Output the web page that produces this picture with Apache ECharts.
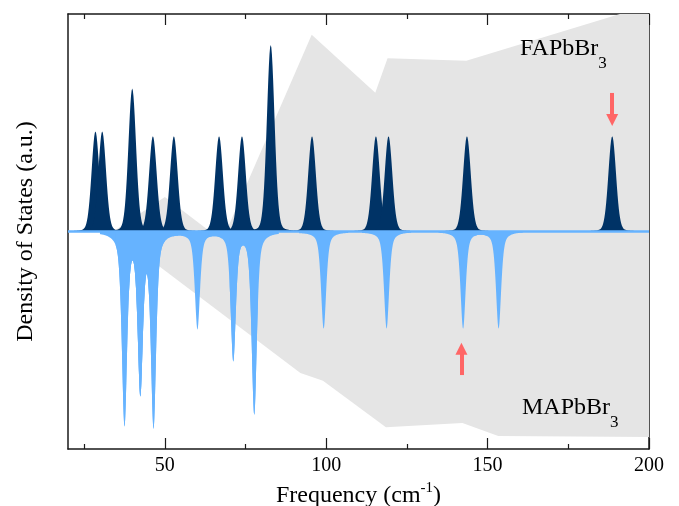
<!DOCTYPE html>
<html>
<head>
<meta charset="utf-8">
<script src="https://cdn.jsdelivr.net/npm/echarts@6/dist/echarts.min.js"></script>
<style>
html,body{margin:0;padding:0;background:#fff;}
#chart{width:679px;height:506px;}
</style>
</head>
<body>
<div id="chart"></div>
<script>
// ---- data ----
var faCenters = [28.5, 30.6, 39.9, 46.3, 52.8, 66.8, 73.9, 82.8, 95.6, 115.4, 119.3, 143.6, 188.6];
var faHeights = [0.46, 0.46, 0.657, 0.438, 0.438, 0.438, 0.438, 0.858, 0.438, 0.438, 0.438, 0.438, 0.438];
var maCenters = [37.5, 42.4, 46.5, 60.1, 71.2, 77.7, 99.2, 118.7, 142.4, 153.4];
var maHeights = [-0.877, -0.716, -0.881, -0.443, -0.585, -0.835, -0.445, -0.445, -0.445, -0.445];
var greyUpperX = [34, 50, 64, 69, 95.5, 115.2, 119, 143.4, 191, 200];
var greyUpperY = [0, 0.159, 0, 0, 0.905, 0.638, 0.796, 0.785, 1.0, 1.0];
var greyLowerX = [34, 92, 99, 118.5, 142.2, 153.3, 200];
var greyLowerY = [0, -0.65, -0.686, -0.9, -0.88, -0.94, -0.945];
var majorTicks = [50, 100, 150, 200];
var minorTicks = [25, 75, 125, 175];
var arrowDown = [[188.6, 0.637], [188.6, 0.513]];
var arrowUp = [[141.9, -0.66], [141.9, -0.539]];

// ---- styling ----
var FONT = 'Liberation Serif';
var DARK = '#003366';
var LIGHT = '#66b3ff';
var GREY = '#e5e5e5';
var AXIS = '#1a1a1a';

function pv(d, fwhm, eta) {
  var r = 2 * d / fwhm;
  return eta / (1 + r * r) + (1 - eta) * Math.exp(-Math.LN2 * r * r);
}

function peakSeries(centers, heights, color, fwhm, eta, summed, z) {
  function total(x) {
    var s = 0;
    for (var j = 0; j < centers.length; j++) s += heights[j] * pv(x - centers[j], fwhm, eta);
    return s;
  }
  return {
    type: 'custom',
    z: z,
    silent: true,
    clip: true,
    data: centers.map(function (c, i) { return [c, heights[i]]; }),
    renderItem: function (params, api) {
      var c = api.value(0), h = api.value(1);
      var span = fwhm * 4;
      var pts = [api.coord([c - span, 0])];
      var n = 120;
      for (var k = 0; k <= n; k++) {
        var x = c - span + 2 * span * k / n;
        var y = summed ? total(x) : h * pv(x - c, fwhm, eta);
        pts.push(api.coord([x, y]));
      }
      pts.push(api.coord([c + span, 0]));
      return { type: 'polygon', shape: { points: pts }, style: { fill: color } };
    }
  };
}

function zip(xs, ys) { return xs.map(function (x, i) { return [x, ys[i]]; }); }

var chart = echarts.init(document.getElementById('chart'), null, { renderer: 'canvas' });

function xAx(pos, ticks, len, showLine, showLabel, extra) {
  var o = {
    type: 'value', gridIndex: 0, min: 20, max: 200, position: pos,
    axisLine: { show: showLine, onZero: false, lineStyle: { color: AXIS, width: 1.5 } },
    axisTick: { show: true, inside: true, length: len, customValues: ticks, lineStyle: { color: AXIS, width: 1.2 } },
    axisLabel: showLabel ? { show: true, customValues: ticks, margin: 7, fontFamily: FONT, fontSize: 20, color: '#000' } : { show: false },
    splitLine: { show: false }
  };
  if (extra) for (var k in extra) o[k] = extra[k];
  return o;
}

var labelRich = {
  m: { fontFamily: FONT, fontSize: 24, lineHeight: 26, verticalAlign: 'top', fill: '#000' },
  s: { fontFamily: FONT, fontSize: 17, lineHeight: 17, padding: [18, 0, 0, 0], verticalAlign: 'top', fill: '#000' }
};

var option = {
  animation: false,
  backgroundColor: '#fff',
  grid: { left: 68, right: 30, top: 14, bottom: 57, containLabel: false, outerBoundsMode: 'none' },
  xAxis: [
    xAx('bottom', majorTicks, 11, true, true, {
      name: 'Frequency (cm{sup|-1})',
      nameLocation: 'middle',
      nameGap: 31,
      nameTextStyle: {
        fontFamily: FONT, fontSize: 24, color: '#000',
        rich: { sup: { fontFamily: FONT, fontSize: 15, color: '#000', verticalAlign: 'top', padding: [0, 0, 14, 0] } }
      }
    }),
    xAx('bottom', minorTicks, 5, false, false),
    xAx('top', majorTicks, 11, true, false),
    xAx('top', minorTicks, 5, false, false)
  ],
  yAxis: [
    {
      type: 'value', min: -1, max: 1, position: 'left', gridIndex: 0,
      axisLine: { show: true, onZero: false, lineStyle: { color: AXIS, width: 1.5 } },
      axisTick: { show: false }, axisLabel: { show: false }, splitLine: { show: false },
      name: 'Density of States (a.u.)', nameLocation: 'middle', nameGap: 30,
      nameTextStyle: { fontFamily: FONT, fontSize: 24, color: '#000' }
    },
    {
      type: 'value', min: -1, max: 1, position: 'right', gridIndex: 0,
      axisLine: { show: true, onZero: false, lineStyle: { color: AXIS, width: 1.5 } },
      axisTick: { show: false }, axisLabel: { show: false }, splitLine: { show: false }
    }
  ],
  series: [
    {
      type: 'line', z: 1, silent: true, symbol: 'none',
      data: zip(greyUpperX, greyUpperY),
      lineStyle: { width: 0, color: GREY },
      areaStyle: { color: GREY, opacity: 1 }
    },
    {
      type: 'line', z: 1, silent: true, symbol: 'none',
      data: zip(greyLowerX, greyLowerY),
      lineStyle: { width: 0, color: GREY },
      areaStyle: { color: GREY, opacity: 1 }
    },
    peakSeries(faCenters, faHeights, DARK, 2.8, 0.15, false, 2),
    peakSeries(maCenters, maHeights, LIGHT, 1.9, 0.55, true, 3),
    {
      type: 'line', z: 4, silent: true, symbol: 'none',
      data: [[20, 0], [200, 0]],
      lineStyle: { width: 2.5, color: LIGHT },
      markLine: {
        silent: true,
        symbol: ['none', 'triangle'],
        symbolSize: [12, 12],
        label: { show: false },
        lineStyle: { color: '#ff6666', width: 4, type: 'solid' },
        emphasis: { disabled: true },
        data: [
          [{ coord: arrowDown[0] }, { coord: arrowDown[1] }],
          [{ coord: arrowUp[0] }, { coord: arrowUp[1] }]
        ]
      }
    }
  ],
  graphic: [
    {
      type: 'text', left: 520, top: 37, z: 10, silent: true,
      style: { text: '{m|FAPbBr}{s|3}', rich: labelRich }
    },
    {
      type: 'text', left: 522, top: 396, z: 10, silent: true,
      style: { text: '{m|MAPbBr}{s|3}', rich: labelRich }
    }
  ]
};
chart.setOption(option);
</script>
</body>
</html>
